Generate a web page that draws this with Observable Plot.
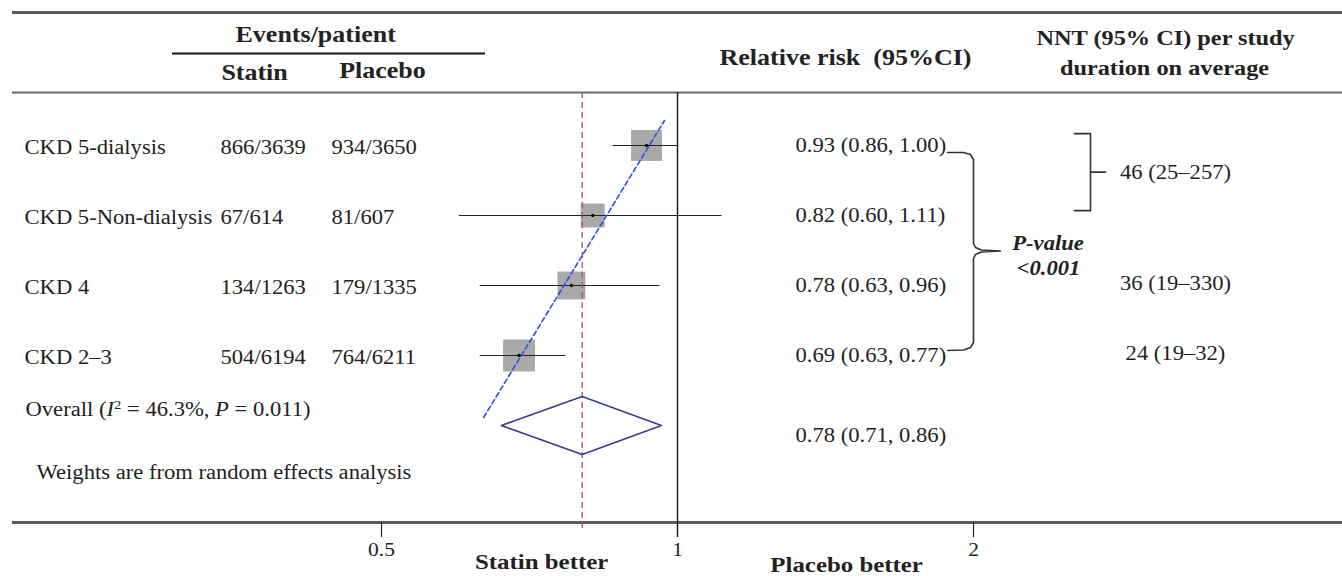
<!DOCTYPE html>
<html>
<head>
<meta charset="utf-8">
<script src="https://cdn.jsdelivr.net/npm/d3@7"></script>
<script src="https://cdn.jsdelivr.net/npm/@observablehq/plot@0.6"></script>
<style>
  html, body { margin: 0; padding: 0; background: #fff; }
  #chart svg { display: block; }
  #chart text { white-space: pre; }
</style>
</head>
<body>
<div id="chart"></div>
<script>
// ---------------- data ----------------
const studies       = ["CKD 5-dialysis", "CKD 5-Non-dialysis", "CKD 4", "CKD 2–3"];
const statinEvents  = ["866/3639", "67/614", "134/1263", "504/6194"];
const placeboEvents = ["934/3650", "81/607", "179/1335", "764/6211"];
const relRisk       = [0.93, 0.82, 0.78, 0.69];
const ciLow         = [0.86, 0.60, 0.63, 0.63];
const ciHigh        = [1.00, 1.11, 0.96, 0.77];
const weights       = [28.7, 17.2, 23.4, 30.6];          // % weight (box area)
const overallLabel  = "Overall (I² = 46.3%, P = 0.011)";
const overallText   = "0.78 (0.71, 0.86)";
const diamondValues = [0.662, 0.80, 0.963];              // low, estimate, high as drawn
const trendRR       = [0.635, 0.97];                     // dashed blue trend line ends
const trendRow      = [3.886, -0.357];
const nntText       = ["46 (25–257)", "36 (19–330)", "24 (19–32)"];
const nntGroups     = [[0, 1], [2], [3]];
const tickValues    = [0.5, 1, 2];

// ---------------- geometry ----------------
const W = 1342, H = 576, ML = 12;
const onePx = 677, perDoubling = 296;          // pixel of RR = 1, pixels per doubling
const row0Px = 145, rowStep = 70;
const xDomain = [Math.pow(2, (ML - onePx) / perDoubling), Math.pow(2, (W - onePx) / perDoubling)];
const yDomain = [-row0Px / rowStep, (H - row0Px) / rowStep];
const xs = d3.scaleLog().domain(xDomain).range([ML, W]);
const ys = d3.scaleLinear().domain(yDomain).range([0, H]);
const X = px => xs.invert(px), Y = py => ys.invert(py);

const rows = studies.map((s, i) => ({
  i, study: s, statin: statinEvents[i], placebo: placeboEvents[i],
  rr: relRisk[i], lo: ciLow[i], hi: ciHigh[i], w: weights[i],
  rrText: `${relRisk[i].toFixed(2)} (${ciLow[i].toFixed(2)}, ${ciHigh[i].toFixed(2)})`
}));
const overallRow = studies.length;
const diamond = [[0, 0], [1, -0.414], [2, 0], [1, 0.414], [0, 0]]
  .map(([k, o]) => ({x: diamondValues[k], y: overallRow + o}));
const trend = trendRR.map((x, k) => ({x, y: trendRow[k]}));
const nnt = nntText.map((t, k) => {
  const g = nntGroups[k];
  return {t, y: g.length > 1 ? d3.mean(g) - 0.12 : g[0] - 0.03, g};
});

// bracket "]" around the grouped NNT rows
const br = [];
nnt.filter(d => d.g.length > 1).forEach((d, k) => {
  const top = d3.min(d.g) - 0.17, bot = d3.max(d.g) - 0.07;
  [[1074, top], [1090, top], [1090, bot], [1074, bot]].forEach(([px, y]) => br.push({x: X(px), y, z: "b" + k}));
  [[1090, d.y], [1105, d.y]].forEach(([px, y]) => br.push({x: X(px), y, z: "t" + k}));
});
// curly brace joining the four subgroup estimates (P for trend)
const bracePx = [[947,152],[963,152],[970,154],[973,159],[973,243],[975,247],[981,249.5],[1000,250.5],
                 [981,251.5],[975,254],[973,258],[973,342],[970,347],[963,349.5],[947,350]];
const brace = bracePx.map(([px, py]) => ({x: X(px), y: Y(py)}));

const label = (text, px, py, o = {}) =>
  Plot.text([text], {frameAnchor: "top-left", dx: px - ML, dy: py, text: d => d, lineAnchor: "middle", textAnchor: "middle", ...o});
const bold = {fontWeight: "bold", fontSize: 23};

const chart = Plot.plot({
  width: W, height: H,
  marginLeft: ML, marginRight: 0, marginTop: 0, marginBottom: 0,
  x: {type: "log", domain: xDomain, range: [ML, W], axis: null},
  y: {domain: yDomain, range: [0, H], axis: null},
  r: {type: "sqrt", domain: [0, d3.max(weights)], range: [0, 18]},
  style: {fontFamily: "'Liberation Serif', 'Times New Roman', serif", fontSize: "20px", background: "#fff", color: "#222"},
  marks: [
    // table rules
    Plot.ruleY([Y(12)], {stroke: "#5c5c5c", strokeWidth: 3}),
    Plot.ruleY([Y(92)], {stroke: "#6a6a6a", strokeWidth: 2.2}),
    Plot.ruleY([Y(522)], {stroke: "#5c5c5c", strokeWidth: 3}),
    Plot.ruleY([{y: Y(53), x1: X(172), x2: X(485)}], {y: "y", x1: "x1", x2: "x2", stroke: "#111", strokeWidth: 2}),
    // boxes
    Plot.dot(rows, {x: "rr", y: "i", r: "w", symbol: "square", fill: "#a9a9a9", stroke: null}),
    // confidence intervals
    Plot.ruleY(rows, {y: "i", x1: "lo", x2: "hi", stroke: "#222", strokeWidth: 1.2}),
    // reference lines
    Plot.ruleX([1], {y1: Y(92), y2: Y(537), stroke: "#111", strokeWidth: 1.4}),
    Plot.ruleX([diamondValues[1]], {y1: Y(92), y2: Y(530), stroke: "#b4514c", strokeWidth: 1.3, strokeDasharray: "6,4"}),
    Plot.ruleX(tickValues.filter(v => v !== 1), {y1: Y(522), y2: Y(537), stroke: "#222", strokeWidth: 1.2}),
    Plot.text(tickValues, {x: d => d, y: Y(549), text: d => String(d), fontSize: 19, textAnchor: "middle"}),
    // trend line
    Plot.line(trend, {x: "x", y: "y", stroke: "#2f4fe6", strokeWidth: 1.6, strokeDasharray: "5,3"}),
    // centre points
    Plot.dot(rows, {x: "rr", y: "i", r: 1.7, fill: "#000", stroke: null}),
    // overall diamond
    Plot.line(diamond, {x: "x", y: "y", stroke: "#3b3b98", strokeWidth: 1.6, curve: "linear"}),
    // brackets
    Plot.line(brace, {x: "x", y: "y", stroke: "#333", strokeWidth: 1.6}),
    Plot.line(br, {x: "x", y: "y", z: "z", stroke: "#333", strokeWidth: 1.6}),
    // headers
    label("Events/patient", 315, 34, bold),
    label("Statin", 254, 72, bold),
    label("Placebo", 382, 70, bold),
    label("Relative risk  (95%CI)", 845, 57, bold),
    label("NNT (95% CI) per study", 1165, 38, {fontWeight: "bold", fontSize: 21.5}),
    label("duration on average", 1164, 68, {fontWeight: "bold", fontSize: 21.5}),
    label("Statin better", 541, 561, {fontWeight: "bold", fontSize: 22}),
    label("Placebo better", 846, 564, {fontWeight: "bold", fontSize: 22}),
    // row texts
    Plot.text(rows, {frameAnchor: "left", dx: 24 - ML, y: "i", dy: 2, text: "study", textAnchor: "start"}),
    Plot.text(rows, {frameAnchor: "left", dx: 220 - ML, y: "i", dy: 2, text: "statin", textAnchor: "start"}),
    Plot.text(rows, {frameAnchor: "left", dx: 331 - ML, y: "i", dy: 2, text: "placebo", textAnchor: "start"}),
    Plot.text(rows, {frameAnchor: "left", dx: 795 - ML, y: "i", text: "rrText", textAnchor: "start"}),
    Plot.text([overallLabel], {frameAnchor: "left", dx: 25 - ML, y: () => overallRow, dy: -16, text: d => d, textAnchor: "start"}),
    Plot.text([overallText], {frameAnchor: "left", dx: 795 - ML, y: () => overallRow, dy: 10, text: d => d, textAnchor: "start"}),
    label("Weights are from random effects analysis", 36, 472, {textAnchor: "start"}),
    Plot.text(nnt, {frameAnchor: "left", dx: 1175 - ML, y: "y", text: "t", textAnchor: "middle"}),
    label("P-value", 1048, 243, {fontWeight: "bold", fontStyle: "italic"}),
    label("<0.001", 1048, 268, {fontWeight: "bold", fontStyle: "italic"})
  ]
});

document.getElementById("chart").append(chart);

// italic I, P and superscript 2 in the overall label
const NS = "http://www.w3.org/2000/svg";
chart.querySelectorAll("text").forEach(t => {
  if (t.textContent !== overallLabel) return;
  t.textContent = "";
  const parts = [["Overall (", {}], ["I", {"font-style": "italic"}], ["2", {"font-size": "13px", dy: "-7"}],
                 [" = 46.3%, ", {dy: "7"}], ["P", {"font-style": "italic"}], [" = 0.011)", {}]];
  parts.forEach(([s, a]) => {
    const ts = document.createElementNS(NS, "tspan");
    ts.textContent = s;
    Object.entries(a).forEach(([k, v]) => ts.setAttribute(k, v));
    t.appendChild(ts);
  });
});
// the reference typography is horizontally wider than Times metrics:
// widen every text by 13% while keeping its anchor (start / middle / end)
const stretch = 1.13;
chart.querySelectorAll("text").forEach(t => {
  const L = t.getComputedTextLength();
  if (!(L > 0)) return;
  const b = t.getBBox();
  const anchor = getComputedStyle(t).textAnchor;
  const newL = L * stretch;
  let x0;
  if (anchor === "middle") x0 = b.x + b.width / 2 - newL / 2;
  else if (anchor === "end") x0 = b.x + b.width - newL;
  else x0 = b.x;
  t.style.textAnchor = "start";
  t.setAttribute("x", x0.toFixed(2));
  t.setAttribute("textLength", newL.toFixed(1));
  t.setAttribute("lengthAdjust", "spacingAndGlyphs");
});
</script>
</body>
</html>
